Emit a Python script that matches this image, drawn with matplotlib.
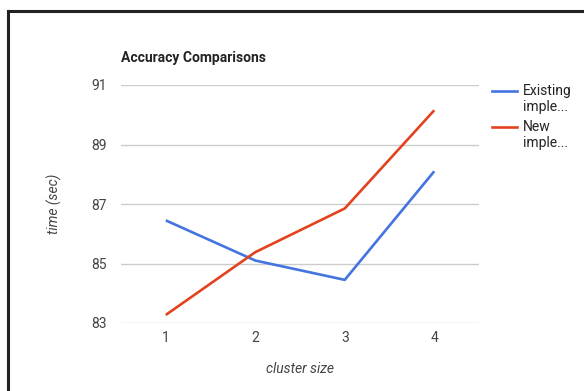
import matplotlib
matplotlib.use("Agg")
import matplotlib.pyplot as plt
from matplotlib.lines import Line2D

plt.rcParams['font.family'] = ['Roboto', 'DejaVu Sans']

# data
cluster_size = [1, 2, 3, 4]
existing = [86.45, 85.1, 84.45, 88.1]
new = [83.27, 85.38, 86.85, 90.15]
series_names = [["Existing", "imple..."], ["New", "imple..."]]
y_ticks = [83, 85, 87, 89, 91]

blue = "#4374e0"
red = "#e2431e"
colors = [blue, red]

W, H = 584, 391
fig = plt.figure(figsize=(W / 100, H / 100), dpi=100)

# plot area in pixels: x 121..479, y 85..323
ax = fig.add_axes([121 / W, 1 - 323 / H, (479 - 121) / W, (323 - 85) / H])
ax.plot(cluster_size, existing, color=blue, lw=1.9, solid_capstyle="butt")
ax.plot(cluster_size, new, color=red, lw=1.9, solid_capstyle="butt")

ax.set_xlim(0.5, 4.5)
ax.set_ylim(83, 91)
ax.set_xticks(cluster_size)
ax.set_yticks(y_ticks)
ax.grid(axis="y", color="#cccccc", lw=1)
ax.set_axisbelow(True)
for s in ax.spines.values():
    s.set_visible(False)
ax.tick_params(length=0, labelsize=10, labelcolor="#444444")
ax.tick_params(axis="x", pad=6)
ax.tick_params(axis="y", pad=10)

fig.text(300 / W, 1 - 369 / H, "cluster size", style="italic", fontsize=10,
         color="#444444", ha="center", va="center")
fig.text(54 / W, 1 - 204 / H, "time (sec)", style="italic", fontsize=10,
         color="#444444", ha="center", va="center", rotation=90)

fig.text(121 / W, 1 - 58 / H, "Accuracy Comparisons", fontsize=10, fontweight="bold",
         color="#222222", va="center", ha="left")

# legend: handle sits beside the first line of each two-line label
for i, (name, c) in enumerate(zip(series_names, colors)):
    y0 = 91 + 36 * i
    fig.add_artist(Line2D([492 / W, 517 / W], [1 - y0 / H, 1 - y0 / H], color=c, lw=1.9))
    for j, part in enumerate(name):
        fig.text(523 / W, 1 - (y0 + 16 * j) / H, part, fontsize=10, color="#222222",
                 va="center", ha="left")

# dark frame along the top and left edges of the screenshot
fig.add_artist(Line2D([8 / W, 1], [1 - 11 / H, 1 - 11 / H], color="#222222", lw=2.2))
fig.add_artist(Line2D([8 / W, 8 / W], [0, 1 - 11 / H], color="#222222", lw=2.2))

fig.savefig("out.png", dpi=100, facecolor="white")
